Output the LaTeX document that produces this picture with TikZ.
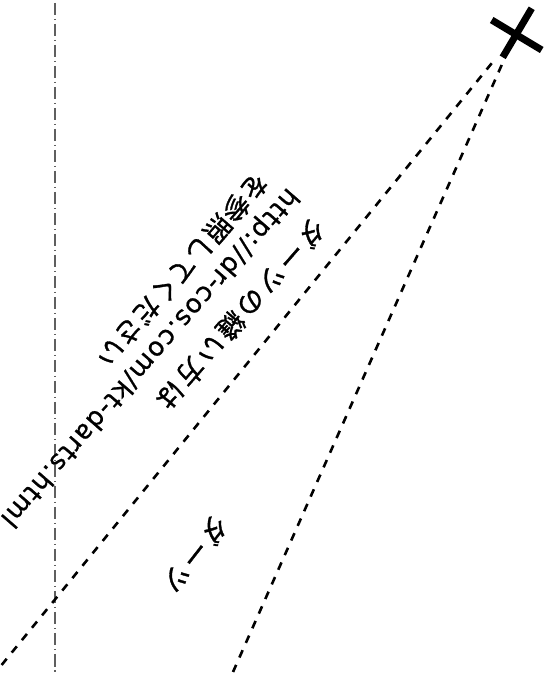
\documentclass[tikz,border=0pt]{standalone}
\usepackage{fontspec}
\newfontfamily\jpA[LetterSpace=14,FakeBold=1.2]{Noto Sans CJK JP}
\newfontfamily\jpB[LetterSpace=2,FakeBold=1.2]{Noto Sans CJK JP}
\newfontfamily\lat[LetterSpace=5,FakeBold=0.8]{DejaVu Sans}
\definecolor{dashgray}{RGB}{95,95,95}
\tikzset{
  foldline/.style={draw=dashgray, line width=2.2pt,
    dash pattern=on 12.5pt off 3.5pt on 1.5pt off 3.5pt},
  dartline/.style={draw=black, line width=2.6pt, dash pattern=on 8pt off 8pt},
  crossarm/.style={draw=black, line width=7pt},
  label/.style={inner sep=0pt},
  jsize/.style={font=\fontsize{27pt}{32pt}\selectfont},
  lsize/.style={font=\fontsize{26pt}{30pt}\selectfont},
}
\begin{document}
\begin{tikzpicture}[x=1pt,y=1pt]
\useasboundingbox (0,0) rectangle (547,675);
% coordinates
\coordinate (foldtop) at (55,672);
\coordinate (foldbot) at (55,0);
\coordinate (s1) at (491.7,611.7);
\coordinate (e1) at (0,8);
\coordinate (s2) at (501.7,610);
\coordinate (e2) at (233,3);
\coordinate (a1) at (491.7,655);
\coordinate (a2) at (541.7,625);
\coordinate (b1) at (531.7,666.7);
\coordinate (b2) at (502.7,617.7);
% fold line
\draw[foldline] (foldtop) -- (foldbot);
% dart legs
\draw[dartline] (s1) -- (e1);
\draw[dartline] (s2) -- (e2);
% cross mark
\draw[crossarm] (a1) -- (a2);
\draw[crossarm] (b1) -- (b2);
% texts
\node[label, jsize, rotate=229] (t1) at (241,360.5) {\jpA ダーツの縫い方は};
\node[label, lsize, rotate=229] (t2) at (149,318) {\lat http://dr-cos.com/kt-darts.html};
\node[label, jsize, rotate=229] (t3) at (182.5,405) {\jpB を参照してください};
\node[label, jsize, rotate=232] (t4) at (195.5,120.5) {\jpA ダーツ};
\end{tikzpicture}
\end{document}
